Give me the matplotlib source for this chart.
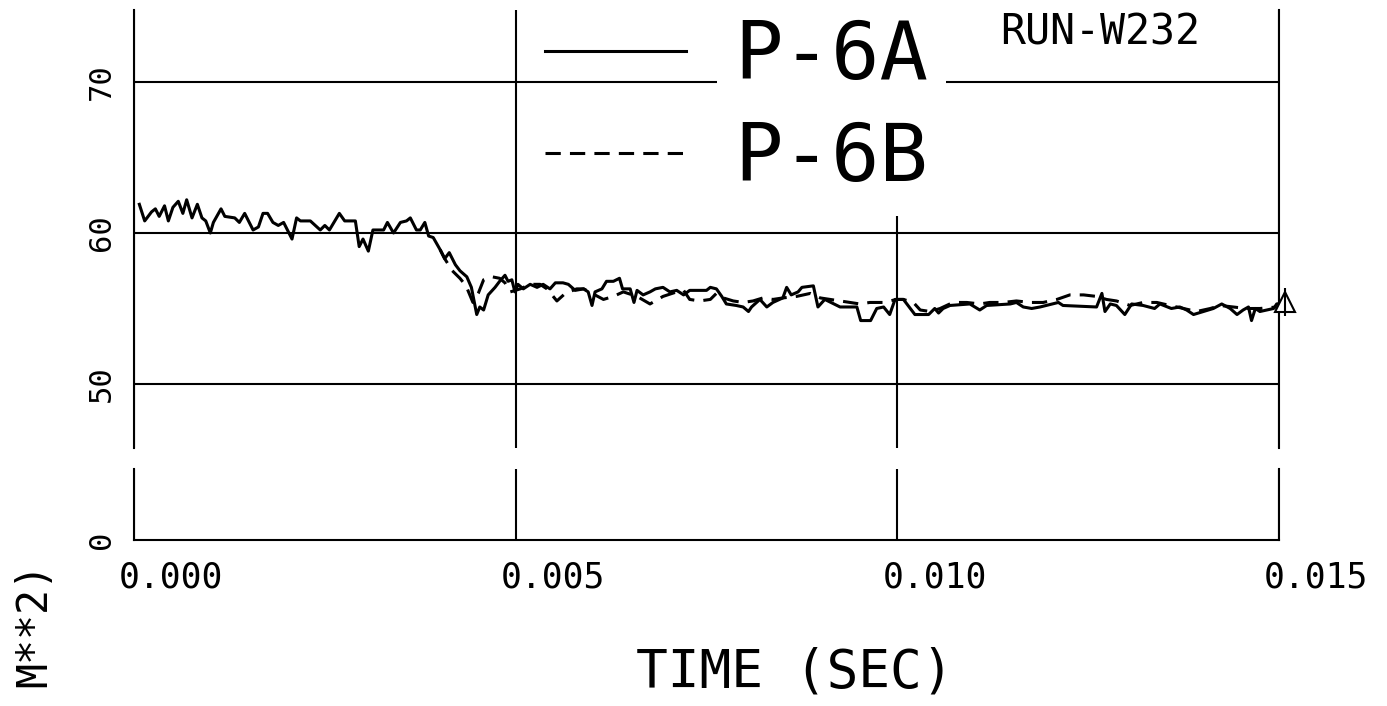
import numpy as np
import matplotlib.pyplot as plt
from matplotlib.lines import Line2D
from matplotlib.font_manager import FontProperties
from matplotlib.transforms import ScaledTranslation

# P-6A (solid line) time [s] / pressure
t_a = [0.00007, 0.00014, 0.00023, 0.00028, 0.00033, 0.00040, 0.00045, 0.00051, 0.00058, 0.00064,
       0.00069, 0.00076, 0.00083, 0.00089, 0.00094, 0.00100, 0.00104, 0.00114, 0.00119, 0.00132,
       0.00138, 0.00145, 0.00156, 0.00163, 0.00169, 0.00175, 0.00182, 0.00189, 0.00196, 0.00207,
       0.00213, 0.00218, 0.00231, 0.00244, 0.00250, 0.00256, 0.00269, 0.00276, 0.00290, 0.00295,
       0.00300, 0.00307, 0.00313, 0.00327, 0.00332, 0.00340, 0.00349, 0.00357, 0.00362, 0.00370,
       0.00375, 0.00381, 0.00386, 0.00392, 0.00401, 0.00407, 0.00413, 0.00421, 0.00427, 0.00436,
       0.00442, 0.00449, 0.00453, 0.00458, 0.00464, 0.00473, 0.00479, 0.00486, 0.00490, 0.00495,
       0.00499, 0.00503, 0.00510, 0.00519, 0.00528, 0.00536, 0.00545, 0.00552, 0.00562, 0.00569,
       0.00578, 0.00589, 0.00595, 0.00600, 0.00604, 0.00613, 0.00619, 0.00628, 0.00636, 0.00640,
       0.00650, 0.00655, 0.00659, 0.00667, 0.00676, 0.00683, 0.00693, 0.00702, 0.00711, 0.00720,
       0.00728, 0.00750, 0.00755, 0.00763, 0.00770, 0.00776, 0.00789, 0.00798, 0.00805, 0.00809,
       0.00820, 0.00829, 0.00837, 0.00850, 0.00855, 0.00861, 0.00870, 0.00875, 0.00890, 0.00896,
       0.00905, 0.00925, 0.00947, 0.00952, 0.00965, 0.00973, 0.00982, 0.00990, 0.00997, 0.01008,
       0.01023, 0.01041, 0.01049, 0.01054, 0.01060, 0.01069, 0.01095, 0.01108, 0.01117, 0.01148,
       0.01156, 0.01165, 0.01176, 0.01187, 0.01211, 0.01217, 0.01261, 0.01268, 0.01272, 0.01279,
       0.01287, 0.01298, 0.01307, 0.01322, 0.01337, 0.01344, 0.01359, 0.01370, 0.01379, 0.01388,
       0.01401, 0.01414, 0.01425, 0.01436, 0.01445, 0.01453, 0.01460, 0.01464, 0.01469, 0.01475,
       0.01484, 0.01493, 0.01497, 0.01508]
p_a = [61.9, 60.8, 61.4, 61.6, 61.1, 61.8, 60.8, 61.7, 62.1, 61.3,
       62.2, 61.0, 61.9, 61.0, 60.8, 60.0, 60.7, 61.6, 61.1, 61.0,
       60.7, 61.3, 60.2, 60.4, 61.3, 61.3, 60.7, 60.5, 60.7, 59.6,
       61.0, 60.8, 60.8, 60.2, 60.5, 60.2, 61.3, 60.8, 60.8, 59.1,
       59.6, 58.8, 60.2, 60.2, 60.7, 60.0, 60.7, 60.8, 61.0, 60.2,
       60.2, 60.7, 59.8, 59.7, 58.9, 58.3, 58.7, 57.9, 57.5, 57.1,
       56.4, 54.6, 55.1, 54.9, 55.9, 56.4, 56.8, 57.2, 56.8, 56.9,
       56.1, 56.6, 56.3, 56.6, 56.4, 56.6, 56.3, 56.7, 56.7, 56.6,
       56.2, 56.3, 56.1, 55.2, 56.1, 56.3, 56.8, 56.8, 57.0, 56.3,
       56.3, 55.4, 56.2, 55.9, 56.1, 56.3, 56.4, 56.1, 56.2, 55.9,
       56.2, 56.2, 56.4, 56.3, 55.8, 55.3, 55.2, 55.1, 54.8, 55.1,
       55.6, 55.1, 55.4, 55.7, 56.4, 55.9, 56.1, 56.4, 56.5, 55.1,
       55.6, 55.1, 55.1, 54.2, 54.2, 55.0, 55.1, 54.6, 55.6, 55.6,
       54.6, 54.6, 55.0, 54.7, 55.0, 55.2, 55.3, 54.9, 55.2, 55.3,
       55.4, 55.1, 55.0, 55.1, 55.4, 55.2, 55.1, 56.0, 54.8, 55.3,
       55.2, 54.6, 55.3, 55.2, 55.0, 55.3, 55.0, 55.1, 54.9, 54.6,
       54.8, 55.0, 55.3, 55.0, 54.6, 54.9, 55.1, 54.2, 55.0, 54.8,
       54.9, 55.0, 55.3, 55.4]

# P-6B (dashed line)
t_b = [0.00401, 0.00407, 0.00417, 0.00427, 0.00435, 0.00444, 0.00451, 0.00458, 0.00469, 0.00479,
       0.00486, 0.00493, 0.00506, 0.00519, 0.00532, 0.00541, 0.00554, 0.00565, 0.00580, 0.00589,
       0.00615, 0.00628, 0.00641, 0.00659, 0.00676, 0.00693, 0.00711, 0.00720, 0.00728, 0.00741,
       0.00755, 0.00763, 0.00772, 0.00785, 0.00798, 0.00811, 0.00824, 0.00837, 0.00850, 0.00868,
       0.00886, 0.00899, 0.00912, 0.00925, 0.00938, 0.00951, 0.00964, 0.00982, 0.00999, 0.01008,
       0.01021, 0.01030, 0.01043, 0.01056, 0.01073, 0.01091, 0.01108, 0.01121, 0.01139, 0.01156,
       0.01174, 0.01191, 0.01209, 0.01226, 0.01244, 0.01261, 0.01274, 0.01287, 0.01305, 0.01322,
       0.01340, 0.01357, 0.01375, 0.01392, 0.01410, 0.01423, 0.01440, 0.01457, 0.01475, 0.01497]
p_b = [58.9, 58.3, 57.5, 57.0, 56.5, 55.4, 56.0, 56.9, 57.1, 57.0,
       56.7, 56.1, 56.3, 56.6, 56.6, 56.3, 55.5, 56.0, 56.3, 56.3,
       55.6, 55.8, 56.1, 55.8, 55.3, 55.8, 56.1, 56.2, 55.6, 55.5,
       55.6, 56.0, 55.7, 55.5, 55.4, 55.5, 55.7, 55.6, 55.7, 55.8,
       56.0, 55.7, 55.6, 55.5, 55.4, 55.3, 55.4, 55.4, 55.6, 55.6,
       55.4, 54.9, 54.8, 55.0, 55.4, 55.4, 55.3, 55.4, 55.4, 55.5,
       55.4, 55.4, 55.6, 55.9, 55.9, 55.8, 55.6, 55.5, 55.2, 55.4,
       55.4, 55.2, 55.0, 54.8, 55.0, 55.2, 55.1, 55.0, 55.0, 55.1]

x_ticks = [0.000, 0.005, 0.010, 0.015]
y_ticks_top = [50, 60, 70]
y_ticks_low = [0]
labels = ['P-6A', 'P-6B']

W, H = 1387, 706
mono = 'DejaVu Sans Mono'
LW = 1.5

fig = plt.figure(figsize=(W / 100, H / 100), dpi=100)

def box(l, t, r, b):
    # pixel box -> figure fraction
    return [l / W, 1 - b / H, (r - l) / W, (b - t) / H]

ax = fig.add_axes(box(134, 10, 1279, 448))
ax2 = fig.add_axes(box(134, 469, 1279, 540), sharex=ax)

ax.set_xlim(0, 0.015)
ax.set_ylim(45.76, 74.77)
ax2.set_ylim(0, 4.70)

# curves
ax.plot(t_a, p_a, color='black', lw=2.2, marker='^', markevery=[len(t_a) - 1],
        ms=15, mfc='white', mec='black', mew=1.5, clip_on=False, zorder=3)
ax.plot(t_a[-1:], p_a[-1:], color='black', marker='|', ms=20, mew=1.5,
        ls='none', clip_on=False, zorder=3)
ax.plot(t_b, p_b, color='black', lw=2.2, ls=(0, (5, 3)), zorder=3)

# grid
for a in (ax, ax2):
    a.set_xticks(x_ticks)
    a.grid(axis='x', color='black', lw=LW)
    a.spines['top'].set_visible(False)
    for s in ('left', 'right', 'bottom'):
        a.spines[s].set_linewidth(LW)
    a.tick_params(length=0)
ax.spines['bottom'].set_visible(False)
ax.set_yticks(y_ticks_top)
ax.grid(axis='y', color='black', lw=LW)
ax.tick_params(axis='x', labelbottom=False)
ax2.set_yticks(y_ticks_low)

for a, ticks in ((ax, y_ticks_top), (ax2, y_ticks_low)):
    a.set_yticklabels([str(v) for v in ticks], rotation=90, va='center',
                      family=mono, fontsize=22)
    a.tick_params(axis='y', pad=13)

ax2.set_xticklabels(['%.3f' % v for v in x_ticks], family=mono, fontsize=25, ha='left')
ax2.tick_params(axis='x', pad=15)
shift = ScaledTranslation(-15 / 100, 0, fig.dpi_scale_trans)
for lab in ax2.get_xticklabels():
    lab.set_transform(lab.get_transform() + shift)

# legend
handles = [Line2D([], [], color='black', lw=2.2),
           Line2D([], [], color='black', lw=2.2, ls=(0, (5, 3)))]
leg = ax.legend(handles, labels, loc='upper left',
                bbox_to_anchor=((545 - 134) / 1145, 0.982),
                frameon=False, prop=FontProperties(family=mono, size=58),
                handlelength=1.75, handletextpad=0.6, labelspacing=0.30,
                borderpad=0, borderaxespad=0)
for txt in leg.get_texts():
    txt.set_bbox(dict(facecolor='white', edgecolor='none', pad=13))

ax.text((1000 - 134) / 1145, 0.948, 'RUN-W232', transform=ax.transAxes,
        family=mono, fontsize=30, va='center', ha='left')

fig.text(795 / W, 1 - 672 / H, 'TIME (SEC)', family=mono, fontsize=38,
         ha='center', va='center')
fig.text(34 / W, 1 - 562 / H, 'M**2)', family=mono, fontsize=30,
         rotation=90, ha='center', va='top')

fig.savefig('out.png', dpi=100, facecolor='white')
